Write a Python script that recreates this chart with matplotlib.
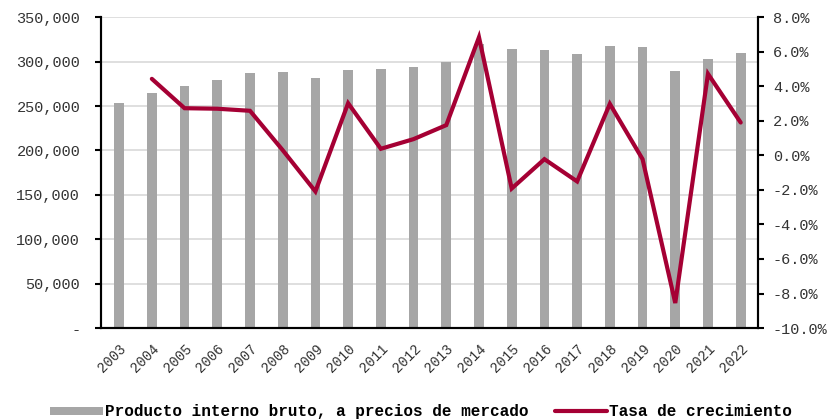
import numpy as np
import matplotlib.pyplot as plt
from matplotlib.ticker import FuncFormatter

# datos
anios = [str(a) for a in range(2003, 2023)]
pib = [253.5, 265.2, 272.7, 279.8, 286.9, 288.4, 282.0, 290.7, 291.8, 294.4,
       299.7, 320.3, 313.9, 313.2, 308.3, 317.7, 316.9, 289.9, 303.4, 309.4]
pib = [v * 1000 for v in pib]
tasa = [np.nan, 4.43, 2.73, 2.70, 2.58, 0.30, -2.09, 3.02, 0.38, 0.94,
        1.75, 6.84, -1.92, -0.22, -1.51, 2.98, -0.22, -8.55, 4.72, 1.90]

gris = '#a6a6a6'
rojo = '#a50034'
fuente = 'Liberation Mono'
plt.rcParams['font.family'] = [fuente, 'DejaVu Sans']

fig = plt.figure(figsize=(8.29, 4.19), dpi=100)
ax = fig.add_axes([0.122, 0.217, 0.792, 0.742])
ax2 = ax.twinx()

x = np.arange(len(anios))
barras = ax.bar(x, pib, width=0.3, color=gris, zorder=2,
                label='Producto interno bruto, a precios de mercado')
linea, = ax2.plot(x, tasa, color=rojo, lw=3, solid_capstyle='round',
                  solid_joinstyle='miter', label='Tasa de crecimiento', zorder=3)

ax.set_xlim(-0.55, 19.52)
ax.set_ylim(0, 350000)
ax.set_yticks(np.arange(0, 350001, 50000))
ax.yaxis.set_major_formatter(FuncFormatter(lambda v, p: '-' if v == 0 else f'{v:,.0f}'))
ax.grid(axis='y', color='#d9d9d9', lw=1.2, zorder=0)
ax.set_axisbelow(True)

ax2.set_ylim(-10, 8)
ax2.set_yticks(np.arange(-10, 8.1, 2))
ax2.yaxis.set_major_formatter(FuncFormatter(lambda v, p: f'{v:.1f}%'))

ax.set_xticks(x)
ax.set_xticklabels(anios, rotation=45, ha='right', rotation_mode='anchor', fontsize=10)
ax.tick_params(axis='x', length=0, pad=10)
ax.tick_params(axis='y', labelsize=11, length=4, width=1.5, color='black',
               labelcolor='#333333', pad=11)
ax2.tick_params(axis='y', labelsize=11, length=4, width=1.5, color='black',
                labelcolor='#333333', pad=7)
for t in ax.get_xticklabels():
    t.set_color('#333333')

for a in (ax, ax2):
    a.spines['top'].set_visible(False)
    for s in ('left', 'right', 'bottom'):
        a.spines[s].set_linewidth(1.5)
        a.spines[s].set_color('black')

fig.legend([barras, linea], [barras.get_label(), linea.get_label()],
           loc='lower center', bbox_to_anchor=(0.508, -0.035), ncol=2, frameon=False,
           prop={'family': fuente, 'size': 11.5, 'weight': 'bold'},
           handlelength=3.3, handleheight=0.4, handletextpad=0.1, columnspacing=1.65)

fig.savefig('out.png', dpi=100)
